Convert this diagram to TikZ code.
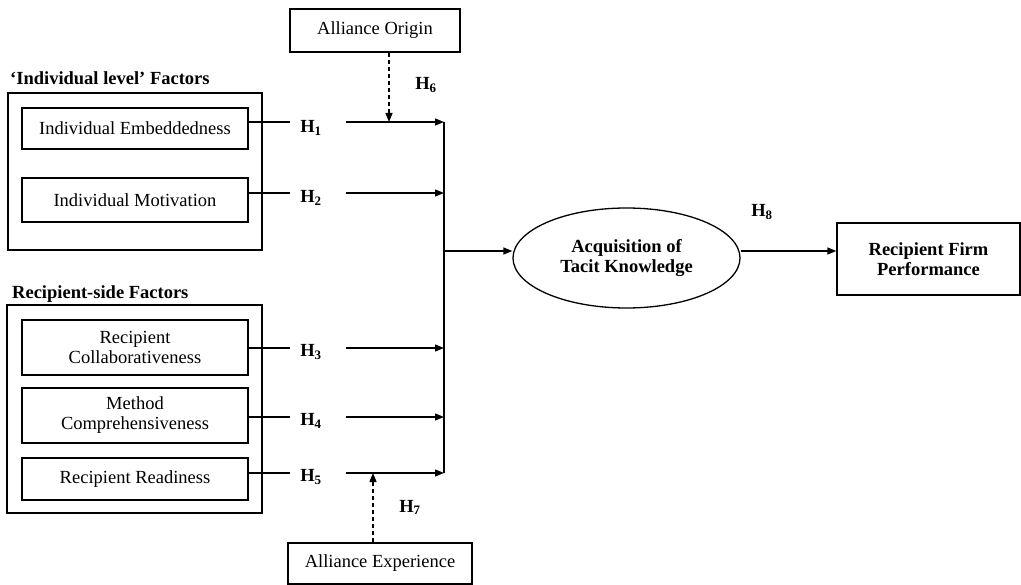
\documentclass[tikz,border=0pt]{standalone}
\usepackage{fontspec}
\setmainfont{Liberation Serif}
\usetikzlibrary{arrows.meta,shapes.geometric}
\begin{document}
\begin{tikzpicture}[x=1pt,y=-1pt,
  every node/.style={font=\fontsize{18.5}{20}\selectfont},
  box/.style={draw,line width=1.3pt,inner sep=0pt,align=center},
  outer/.style={draw,line width=1.7pt,inner sep=0pt},
  bx/.style={font=\fontsize{18.5}{20}\selectfont\bfseries},
  hlab/.style={font=\fontsize{18.5}{20}\selectfont\bfseries,anchor=base,inner sep=0pt},
  conn/.style={line width=1.3pt},
  arr/.style={conn,-{Triangle[length=9pt,width=7pt]}},
  darr/.style={arr,dash pattern=on 4pt off 3pt},
]
\useasboundingbox (0,0) rectangle (1021,585);

% group frames and titles
\node[outer,minimum width=254,minimum height=157] (g1) at (135,171.5) {};
\node[outer,minimum width=255,minimum height=208] (g2) at (134.5,409) {};
\node[bx,anchor=base west,inner sep=0pt] (t1) at (10,85) {‘Individual level’ Factors};
\node[bx,anchor=base west,inner sep=0pt] (t2) at (12,299) {Recipient-side Factors};

% factor boxes
\node[box,minimum width=226,minimum height=41] (IE) at (135,128.5) {Individual Embeddedness};
\node[box,minimum width=226,minimum height=44] (IM) at (135,200) {Individual Motivation};
\node[box,minimum width=226,minimum height=55] (RC) at (135,347.5) {Recipient\\Collaborativeness};
\node[box,minimum width=226,minimum height=55] (MC) at (135,415.5) {Method\\Comprehensiveness};
\node[box,minimum width=226,minimum height=42] (RR) at (135,479) {Recipient Readiness};

% moderators
\node[box,minimum width=170,minimum height=43] (AO) at (375,30.5) {Alliance Origin};
\node[box,minimum width=184,minimum height=41] (AE) at (380,563.5) {Alliance Experience};

% outcome nodes
\node[draw,ellipse,line width=1.3pt,inner sep=0pt,minimum width=227,minimum height=100,align=center,bx] (AK) at (626.5,258) {Acquisition of\\Tacit Knowledge};
\node[box,bx,minimum width=183,minimum height=72] (RFP) at (928.5,259) {Recipient Firm\\Performance};

% hypothesis labels
\node[hlab] (H1) at (311,133) {H\textsubscript{1}};
\node[hlab] (H2) at (311,203) {H\textsubscript{2}};
\node[hlab] (H3) at (311,357) {H\textsubscript{3}};
\node[hlab] (H4) at (311,426) {H\textsubscript{4}};
\node[hlab] (H5) at (311,482) {H\textsubscript{5}};
\node[hlab] (H6) at (426,90) {H\textsubscript{6}};
\node[hlab] (H7) at (410,512) {H\textsubscript{7}};
\node[hlab] (H8) at (762,217) {H\textsubscript{8}};

% line coordinates
\coordinate (a1) at (290,122); \coordinate (b1) at (346,122);
\coordinate (a2) at (290,193); \coordinate (b2) at (346,193);
\coordinate (a3) at (290,348); \coordinate (b3) at (346,348);
\coordinate (a4) at (290,417); \coordinate (b4) at (346,417);
\coordinate (a5) at (290,473); \coordinate (b5) at (346,473);
\coordinate (bt) at (444,122);
\coordinate (bb) at (444,473);
\coordinate (bm) at (444,251);
\coordinate (m6) at (389,122);
\coordinate (m7) at (373,473);

% stubs from factor boxes
\draw[conn] (IE.east |- a1) -- (a1);
\draw[conn] (IM.east |- a2) -- (a2);
\draw[conn] (RC.east |- a3) -- (a3);
\draw[conn] (MC.east |- a4) -- (a4);
\draw[conn] (RR.east |- a5) -- (a5);

% arrows into the bus
\draw[arr] (b1) -- (bt);
\draw[arr] (b2) -- (bt |- b2);
\draw[arr] (b3) -- (bt |- b3);
\draw[arr] (b4) -- (bt |- b4);
\draw[arr] (b5) -- (bb);

% bus
\draw[conn] (bt) -- (bb);

% to ellipse and outcome
\draw[arr] (bm) -- (AK.west |- bm);
\draw[arr] (AK.east |- bm) -- (RFP.west |- bm);

% moderating effects
\draw[darr] (AO.south -| m6) -- (m6);
\draw[darr] (AE.north -| m7) -- (m7);
\end{tikzpicture}
\end{document}
